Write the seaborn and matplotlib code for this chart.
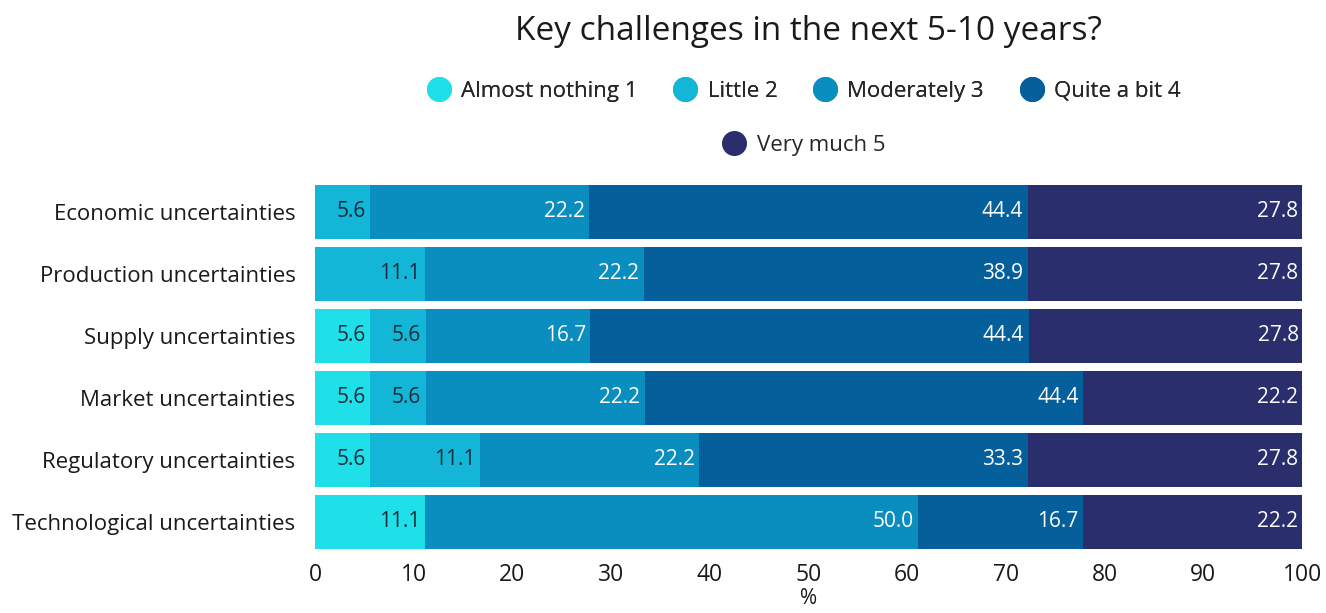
import numpy as np
import pandas as pd
import matplotlib
matplotlib.use("Agg")
import matplotlib.pyplot as plt
from matplotlib.lines import Line2D
import seaborn as sns

categories = ["Economic uncertainties", "Production uncertainties", "Supply uncertainties",
              "Market uncertainties", "Regulatory uncertainties", "Technological uncertainties"]
series_names = ["Almost nothing 1", "Little 2", "Moderately 3", "Quite a bit 4", "Very much 5"]
almost_nothing = [0.0, 0.0, 5.6, 5.6, 5.6, 11.1]
little = [5.6, 11.1, 5.6, 5.6, 11.1, 0.0]
moderately = [22.2, 22.2, 16.7, 22.2, 22.2, 50.0]
quite_a_bit = [44.4, 38.9, 44.4, 44.4, 33.3, 16.7]
very_much = [27.8, 27.8, 27.8, 22.2, 27.8, 22.2]
x_ticks = [0, 10, 20, 30, 40, 50, 60, 70, 80, 90, 100]

colors = ["#1fe0e8", "#13b6d6", "#0a8dbf", "#055f9b", "#2a2e6c"]
label_colors = ["#1a2a3a", "#1a2a3a", "white", "white", "white"]

sns.set_theme(style="white")
plt.rcParams["font.family"] = ["Open Sans", "DejaVu Sans"]

series = [almost_nothing, little, moderately, quite_a_bit, very_much]
vals = np.array(series)  # shape (5, 6)
cum = np.cumsum(vals, axis=0)

fig = plt.figure(figsize=(13.26, 6.13), dpi=100)
ax = fig.add_axes([0.2376, 0.098, 0.7444, 0.607])

# draw cumulative bars from largest to smallest so they stack visually
for i in range(4, -1, -1):
    df = pd.DataFrame({"category": categories, "value": cum[i]})
    sns.barplot(data=df, y="category", x="value", orient="h", color=colors[i],
                width=0.87, ax=ax, saturation=1, linewidth=0, edgecolor="none")

for i in range(5):
    for j, cat in enumerate(categories):
        v = vals[i, j]
        if v <= 0:
            continue
        ax.text(cum[i, j] - 0.45, j, f"{v:.1f}", ha="right", va="center",
                fontsize=15, color=label_colors[i])

ax.set_xlim(0, 100)
ax.set_ylim(len(categories) - 0.5, -0.5)
ax.set_xticks(x_ticks)
ax.set_xticklabels([str(t) for t in x_ticks], fontsize=16.5, color="#1a1a1a")
ax.tick_params(axis="y", labelsize=16, labelcolor="#1a1a1a", length=0, pad=14)
ax.tick_params(axis="x", length=0, pad=7)
ax.set_ylabel("")
ax.set_xlabel("%", fontsize=15, color="#1a1a1a", labelpad=1)
for s in ax.spines.values():
    s.set_visible(False)

fig.text(0.61, 0.948, "Key challenges in the next 5-10 years?", ha="center", va="center",
         fontsize=24, color="#1a1a1a")

handles = [Line2D([0], [0], marker="o", linestyle="none", markersize=17,
                  markerfacecolor=c, markeredgecolor=c) for c in colors]
leg1 = fig.legend(handles[:4], series_names[:4], loc="center", bbox_to_anchor=(0.604, 0.851),
                  ncol=4, frameon=False, fontsize=16, handletextpad=0.2, columnspacing=1.35,
                  handlelength=1.6)
fig.add_artist(leg1)
fig.legend(handles[4:], series_names[4:], loc="center", bbox_to_anchor=(0.604, 0.763),
           ncol=1, frameon=False, fontsize=16, handletextpad=0.2, handlelength=1.6)

fig.savefig("out.png", dpi=100)
